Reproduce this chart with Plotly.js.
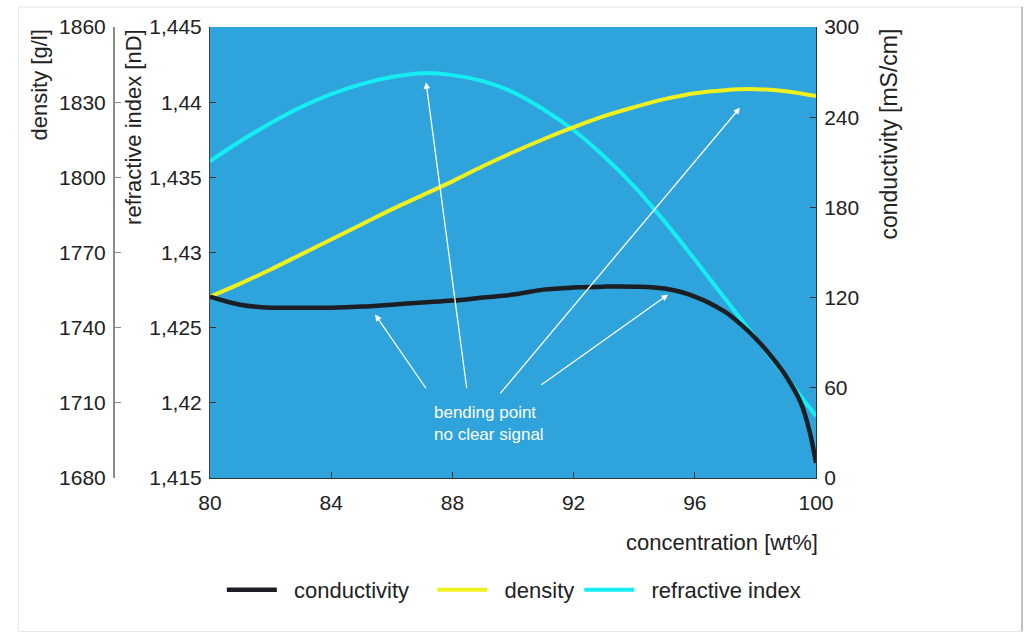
<!DOCTYPE html>
<html>
<head>
<meta charset="utf-8">
<script src="https://cdn.plot.ly/plotly-3.0.1.min.js"></script>
<style>
html,body{margin:0;padding:0;background:#fff;}
#chart{width:1026px;height:638px;}
</style>
</head>
<body>
<div id="chart"></div>
<script>
// concentration [wt%]
const concentration = [80,81,82,83,84,85,86,87,88,89,90,91,92,93,94,95,96,97,98,99,100];
// density [g/l]
const density = [1752.4,1757.6,1763.2,1769.2,1775.2,1781.2,1787.2,1792.8,1798.4,1804.4,1810,1815.2,1820,1824.4,1828,1831.2,1833.6,1834.8,1835.2,1834.4,1832.4];
// refractive index [nD]
const refractiveIndex = [1.43607,1.4374,1.4386,1.43967,1.44053,1.4412,1.44167,1.44193,1.4418,1.4414,1.44067,1.43953,1.43813,1.4364,1.4344,1.43207,1.42953,1.42693,1.42433,1.42173,1.41913];
// conductivity measured on a finer grid near 100 wt%
const concentrationCond = [80,81,82,83,84,85,86,87,88,89,90,91,92,93,94,95,96,97,97.5,98,98.5,99,99.5,99.8,100];
// conductivity [mS/cm]
const conductivity = [120.7,115.3,113.3,113.3,113.3,114,115.3,116.7,118,120,122,125.3,126.7,127.3,127.3,126,120.7,110.5,102.5,93,81.5,68,50,30,10];

// annotation arrows (head x, head RI, tail x, tail RI)
const arrowHeadX = [85.45, 87.13, 97.49, 95.12];
const arrowHeadY = [1.42587, 1.44133, 1.43963, 1.4272];
const arrowTailX = [87.16, 88.48, 89.54, 90.89];
const arrowTailY = [1.42087, 1.42087, 1.42053, 1.42113];

const FONT = 'Liberation Sans, Arial, sans-serif';
const TXT = '#222';
const NB = '\u00a0';

const traces = [
  {x: concentrationCond, y: conductivity, name: NB + NB + 'conductivity' + NB + NB + NB, yaxis: 'y3', mode: 'lines',
   line: {color: '#1b1f24', width: 4.5, shape: 'spline', smoothing: 1}},
  {x: concentration, y: density, name: NB + NB + 'density', yaxis: 'y2', mode: 'lines',
   line: {color: '#f0f01e', width: 4, shape: 'spline', smoothing: 1}},
  {x: concentration, y: refractiveIndex, name: NB + NB + 'refractive index', yaxis: 'y', mode: 'lines',
   line: {color: '#14eef2', width: 4, shape: 'spline', smoothing: 1}}
];

const annotations = [];
for (let i = 0; i < arrowHeadX.length; i++) {
  annotations.push({x: arrowHeadX[i], y: arrowHeadY[i], ax: arrowTailX[i], ay: arrowTailY[i],
    xref: 'x', yref: 'y', axref: 'x', ayref: 'y', text: '', showarrow: true,
    arrowhead: 2, arrowsize: 1, arrowwidth: 1.3, arrowcolor: '#ffffff'});
}
annotations.push({x: 87.33, y: 1.4186, xref: 'x', yref: 'y', xanchor: 'left', yanchor: 'middle', align: 'left',
  showarrow: false, text: 'bending point<br>no clear signal', font: {family: FONT, size: 17, color: '#ffffff'}});
// axis titles (top aligned)
annotations.push({x: -0.0838, y: 1, xref: 'paper', yref: 'paper', xanchor: 'center', yanchor: 'top', textangle: -90,
  showarrow: false, text: 'density [g/l]', font: {family: FONT, size: 22, color: TXT}});
annotations.push({x: 0.046, y: 1, xref: 'paper', yref: 'paper', xanchor: 'center', yanchor: 'top', textangle: -90,
  showarrow: false, text: 'refractive index [nD]', font: {family: FONT, size: 22, color: TXT}});
annotations.push({x: 1.1006, y: 1, xref: 'paper', yref: 'paper', xanchor: 'center', yanchor: 'top', textangle: -90,
  showarrow: false, text: 'conductivity [mS/cm]', font: {family: FONT, size: 23, color: TXT}});
annotations.push({x: 1, y: -0.144, xref: 'paper', yref: 'paper', xanchor: 'right', yanchor: 'middle', xshift: 4,
  showarrow: false, text: 'concentration [wt%]', font: {family: FONT, size: 22, color: TXT}});

const tickFont = {family: FONT, size: 21, color: TXT};

const layout = {
  width: 1026, height: 638,
  margin: {l: 100, r: 210, t: 27, b: 160},
  paper_bgcolor: '#ffffff',
  plot_bgcolor: '#2fa3db',
  separators: ',.',
  font: {family: FONT, size: 21, color: TXT},
  showlegend: true,
  legend: {orientation: 'h', x: 0.578, xanchor: 'center', y: -0.248, yanchor: 'middle',
    font: {family: FONT, size: 22, color: TXT}, itemwidth: 50, bgcolor: 'rgba(0,0,0,0)'},
  xaxis: {domain: [0.1536, 1], range: [80, 100], dtick: 4, tick0: 80, showgrid: false, zeroline: false,
    showline: true, linecolor: '#333', linewidth: 1, ticks: 'inside', ticklen: 6, tickcolor: '#333',
    ticklabelstandoff: 6, tickfont: tickFont},
  yaxis: {range: [1.415, 1.445], dtick: 0.005, tick0: 1.415, showgrid: false, zeroline: false,
    showline: true, linecolor: '#444', linewidth: 1, ticks: 'inside', ticklen: 6, tickcolor: '#333',
    ticklabelstandoff: 3, tickfont: tickFont},
  yaxis2: {range: [1680, 1860], dtick: 30, tick0: 1680, overlaying: 'y', anchor: 'free', position: 0.01816, side: 'left',
    showgrid: false, zeroline: false, showline: true, linecolor: '#8a8a8a', linewidth: 1.5,
    ticks: 'inside', ticklen: 6, tickcolor: '#8a8a8a', ticklabelstandoff: 3, tickfont: tickFont},
  yaxis3: {range: [0, 300], dtick: 60, tick0: 0, overlaying: 'y', anchor: 'x', side: 'right',
    showgrid: false, zeroline: false, showline: true, linecolor: '#333', linewidth: 1,
    ticks: 'inside', ticklen: 6, tickcolor: '#333', ticklabelstandoff: 3, tickfont: tickFont},
  annotations: annotations,
  shapes: [
    {type: 'rect', xref: 'paper', yref: 'paper', x0: -0.114, x1: 1.2877, y0: -0.34, y1: 1.0443,
     line: {color: '#e4e4e4', width: 1}, layer: 'below'},
    {type: 'line', xref: 'paper', yref: 'paper', x0: 1.2877, x1: 1.2877, y0: -0.34, y1: 1.0443,
     line: {color: '#b0b0b0', width: 1.5}, layer: 'below'}
  ]
};

Plotly.newPlot('chart', traces, layout, {displayModeBar: false, staticPlot: true});
</script>
</body>
</html>
